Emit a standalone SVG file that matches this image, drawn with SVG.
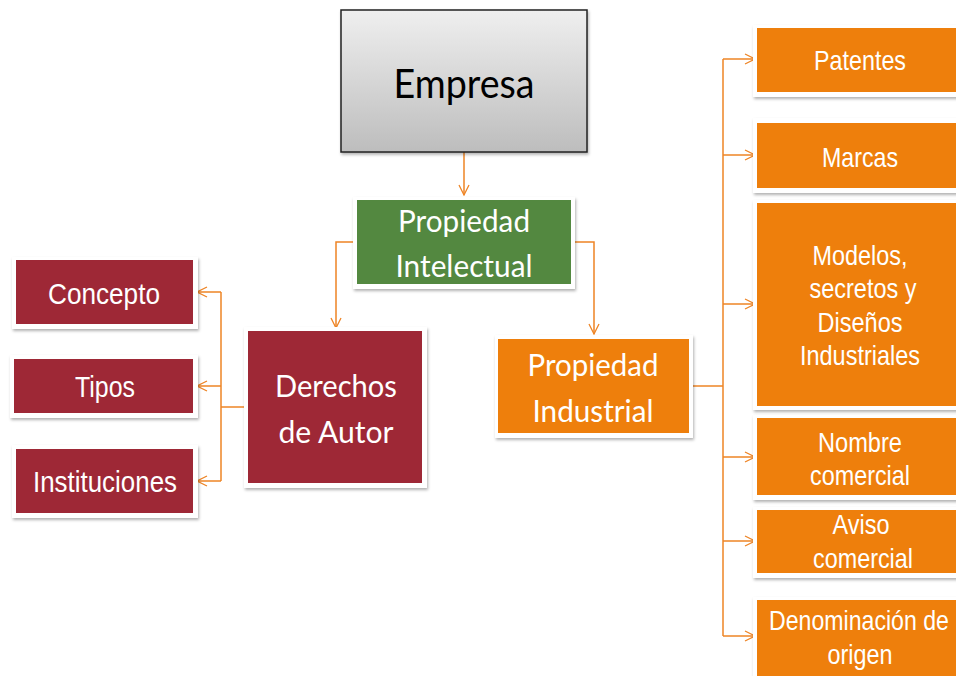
<svg xmlns="http://www.w3.org/2000/svg" width="956" height="676" viewBox="0 0 956 676">
<defs>
<linearGradient id="gray" x1="0" y1="0" x2="0" y2="1">
<stop offset="0" stop-color="#efefef"/>
<stop offset="1" stop-color="#bdbdbd"/>
</linearGradient>
<filter id="sh" x="-10%" y="-10%" width="125%" height="130%">
<feDropShadow dx="1" dy="2" stdDeviation="1.5" flood-color="#000" flood-opacity="0.3"/>
</filter>
<marker id="arr" viewBox="0 0 12 12" refX="11" refY="6" markerWidth="12" markerHeight="12" markerUnits="userSpaceOnUse" orient="auto">
<path d="M1,1 L11,6 L1,11" fill="none" stroke="#EE8425" stroke-width="1.3"/>
</marker>
</defs>
<style>
.frame{fill:#fff;filter:url(#sh)}
.cal{font-family:Lato,"Open Sans",sans-serif;fill:#fff;text-anchor:middle}
.ar{font-family:"Liberation Sans",Arial,sans-serif;fill:#fff;text-anchor:middle}
.red{fill:#9E2836}
.org{fill:#EE7F0C}
.con{fill:none;stroke:#EE8425;stroke-width:1.5}
</style>
<rect width="956" height="676" fill="#fff"/>
<g id="connectors">
<path class="con" d="M464,152 V195" marker-end="url(#arr)"/>
<path class="con" d="M353,242 H336 V328" marker-end="url(#arr)"/>
<path class="con" d="M575,242 H594 V334" marker-end="url(#arr)"/>
<path class="con" d="M244,407 H221"/>
<path class="con" d="M221,292 V481"/>
<path class="con" d="M221,292 H197" marker-end="url(#arr)"/>
<path class="con" d="M221,386 H197" marker-end="url(#arr)"/>
<path class="con" d="M221,481 H197" marker-end="url(#arr)"/>
<path class="con" d="M693,386 H723"/>
<path class="con" d="M723,59 V636"/>
<path class="con" d="M723,59 H755" marker-end="url(#arr)"/>
<path class="con" d="M723,155 H755" marker-end="url(#arr)"/>
<path class="con" d="M723,304 H755" marker-end="url(#arr)"/>
<path class="con" d="M723,457 H755" marker-end="url(#arr)"/>
<path class="con" d="M723,541 H755" marker-end="url(#arr)"/>
<path class="con" d="M723,636 H755" marker-end="url(#arr)"/>
</g>
<g id="empresa">
<rect x="341" y="10" width="246" height="142" fill="url(#gray)" stroke="#222" stroke-width="1.5" filter="url(#sh)"/>
<text x="464" y="98" font-family="Lato,'Open Sans',sans-serif" font-size="40" fill="#000" text-anchor="middle" textLength="141" lengthAdjust="spacingAndGlyphs">Empresa</text>
</g>
<g id="propiedad-intelectual">
<rect class="frame" x="353" y="197" width="222" height="92"/>
<rect x="357" y="200" width="214" height="84" fill="#538840"/>
<text class="cal" x="464" y="232" font-size="31" textLength="132" lengthAdjust="spacingAndGlyphs">Propiedad</text>
<text class="cal" x="464" y="277" font-size="31" textLength="137" lengthAdjust="spacingAndGlyphs">Intelectual</text>
</g>
<g id="derechos-autor">
<rect class="frame" x="244" y="327" width="183" height="161"/>
<rect class="red" x="248" y="331" width="174" height="152"/>
<text class="cal" x="336" y="397" font-size="31" textLength="122" lengthAdjust="spacingAndGlyphs">Derechos</text>
<text class="cal" x="336" y="443" font-size="31" textLength="115" lengthAdjust="spacingAndGlyphs">de Autor</text>
</g>
<g id="concepto">
<rect class="frame" x="12" y="257" width="186" height="72"/>
<rect class="red" x="16" y="260" width="177" height="64"/>
<text class="ar" x="104" y="304" font-size="30" textLength="112" lengthAdjust="spacingAndGlyphs">Concepto</text>
</g>
<g id="tipos">
<rect class="frame" x="10" y="355" width="188" height="63"/>
<rect class="red" x="14" y="359" width="179" height="54"/>
<text class="ar" x="105" y="397" font-size="30" textLength="60" lengthAdjust="spacingAndGlyphs">Tipos</text>
</g>
<g id="instituciones">
<rect class="frame" x="12" y="445" width="186" height="73"/>
<rect class="red" x="16" y="449" width="177" height="64"/>
<text class="ar" x="105" y="492" font-size="30" textLength="144" lengthAdjust="spacingAndGlyphs">Instituciones</text>
</g>
<g id="propiedad-industrial">
<rect class="frame" x="495" y="335" width="198" height="103"/>
<rect class="org" x="498" y="339" width="191" height="94"/>
<text class="cal" x="593" y="376" font-size="31" textLength="131" lengthAdjust="spacingAndGlyphs">Propiedad</text>
<text class="cal" x="593" y="422" font-size="31" textLength="121" lengthAdjust="spacingAndGlyphs">Industrial</text>
</g>
<g id="patentes">
<rect class="frame" x="753" y="25" width="210" height="72"/>
<rect class="org" x="757" y="28" width="206" height="64"/>
<text class="ar" x="860" y="70" font-size="28" textLength="92" lengthAdjust="spacingAndGlyphs">Patentes</text>
</g>
<g id="marcas">
<rect class="frame" x="753" y="118" width="210" height="75"/>
<rect class="org" x="757" y="123" width="206" height="65"/>
<text class="ar" x="860" y="167" font-size="28" textLength="76" lengthAdjust="spacingAndGlyphs">Marcas</text>
</g>
<g id="modelos">
<rect class="frame" x="753" y="200" width="210" height="210"/>
<rect class="org" x="757" y="203" width="206" height="203"/>
<text class="ar" x="860" y="265" font-size="28" textLength="95" lengthAdjust="spacingAndGlyphs">Modelos,</text>
<text class="ar" x="863" y="298" font-size="28" textLength="107" lengthAdjust="spacingAndGlyphs">secretos y</text>
<text class="ar" x="860" y="332" font-size="28" textLength="85" lengthAdjust="spacingAndGlyphs">Diseños</text>
<text class="ar" x="860" y="365" font-size="28" textLength="120" lengthAdjust="spacingAndGlyphs">Industriales</text>
</g>
<g id="nombre-comercial">
<rect class="frame" x="753" y="415" width="210" height="85"/>
<rect class="org" x="757" y="418" width="206" height="77"/>
<text class="ar" x="860" y="452" font-size="28" textLength="84" lengthAdjust="spacingAndGlyphs">Nombre</text>
<text class="ar" x="860" y="485" font-size="28" textLength="100" lengthAdjust="spacingAndGlyphs">comercial</text>
</g>
<g id="aviso-comercial">
<rect class="frame" x="753" y="507" width="210" height="71"/>
<rect class="org" x="757" y="510" width="206" height="63"/>
<text class="ar" x="861" y="534" font-size="28" textLength="57" lengthAdjust="spacingAndGlyphs">Aviso</text>
<text class="ar" x="863" y="568" font-size="28" textLength="100" lengthAdjust="spacingAndGlyphs">comercial</text>
</g>
<g id="denominacion-origen">
<rect class="frame" x="753" y="597" width="210" height="90"/>
<rect class="org" x="757" y="600" width="206" height="87"/>
<text class="ar" transform="translate(859,630) scale(0.826,1)" x="0" y="0" font-size="28">Denominación de</text>
<text class="ar" x="860" y="664" font-size="28" textLength="65" lengthAdjust="spacingAndGlyphs">origen</text>
</g>
</svg>
